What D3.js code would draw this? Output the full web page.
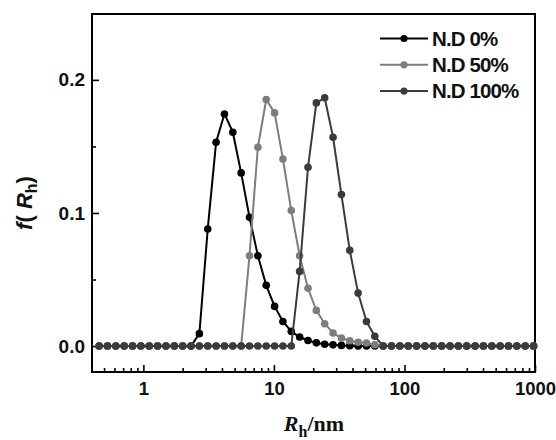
<!DOCTYPE html>
<html>
<head>
<meta charset="utf-8">
<script src="https://cdn.jsdelivr.net/npm/d3@7"></script>
<style>
  body { margin: 0; background: #fff; }
  svg { display: block; }
  text { font-family: "Liberation Sans", Arial, sans-serif; }
</style>
</head>
<body>
<svg width="556" height="440"></svg>
<script>
// hydrodynamic radius grid (nm)
const rh = [0.458, 0.531, 0.615, 0.713, 0.826, 0.957, 1.109, 1.285, 1.489, 1.726,
  2.000, 2.317, 2.685, 3.112, 3.606, 4.178, 4.842, 5.610, 6.501, 7.534,
  8.730, 10.12, 11.72, 13.58, 15.74, 18.24, 21.13, 24.49, 28.38, 32.89,
  38.11, 44.16, 51.17, 59.29, 68.71, 79.62, 92.26, 106.9, 123.9, 143.5,
  166.3, 192.8, 223.4, 258.8, 299.9, 347.5, 402.7, 466.7, 540.8, 626.6,
  726.1, 841.4, 975.0];

// f(Rh) for each sample
const nd0 = [0, 0, 0, 0, 0, 0, 0, 0, 0, 0,
  0, 0, 0.0093, 0.0880, 0.1531, 0.1744, 0.1607, 0.1301, 0.0967, 0.0679,
  0.0456, 0.0298, 0.0185, 0.0110, 0.0068, 0.0042, 0.0024, 0.0014, 0.0009, 0.0005,
  0.0003, 0.0001, 0, 0, 0, 0, 0, 0, 0, 0,
  0, 0, 0, 0, 0, 0, 0, 0, 0, 0,
  0, 0, 0];
const nd50 = [0, 0, 0, 0, 0, 0, 0, 0, 0, 0,
  0, 0, 0, 0, 0, 0, 0, 0, 0.0679, 0.1494,
  0.1852, 0.1752, 0.1406, 0.1018, 0.0679, 0.0434, 0.0268, 0.0168, 0.0098, 0.0060,
  0.0040, 0.0028, 0.0023, 0.0010, 0, 0, 0, 0, 0, 0,
  0, 0, 0, 0, 0, 0, 0, 0, 0, 0,
  0, 0, 0];
const nd100 = [0, 0, 0, 0, 0, 0, 0, 0, 0, 0,
  0, 0, 0, 0, 0, 0, 0, 0, 0, 0,
  0, 0, 0, 0, 0.0561, 0.1343, 0.1827, 0.1865, 0.1569, 0.1138,
  0.0719, 0.0398, 0.0185, 0.0073, 0, 0, 0, 0, 0, 0,
  0, 0, 0, 0, 0, 0, 0, 0, 0, 0,
  0, 0, 0];

const seriesNames = ["N.D 0%", "N.D 50%", "N.D 100%"];
const xTickValues = [1, 10, 100, 1000];
const yTickValues = [0, 0.1, 0.2];

const colors = ["#000000", "#7d7d7d", "#3b3b3b"];

let svg = d3.select("svg");
const plotL = 92, plotR = 535, plotT = 14, plotB = 372;

let xScale = d3.scaleLog().domain([0.404, 1000]).range([plotL, plotR]);
let yScale = d3.scaleLinear().domain([-0.0195, 0.2495]).range([plotB, plotT]);

// minor ticks on the log axis
let xMinor = xScale.ticks().filter(function (d) {
  return xTickValues.indexOf(d) < 0 && d >= 0.404 && d <= 1000;
});

let gx = svg.append("g").attr("transform", "translate(0," + plotB + ")");
gx.append("g").call(d3.axisBottom(xScale).tickValues(xMinor).tickSize(-4).tickFormat(""));
gx.append("g").call(d3.axisBottom(xScale).tickValues(xTickValues).tickSize(-7)
  .tickPadding(10).tickFormat(d3.format("d")));
gx.selectAll(".domain").remove();
gx.selectAll("line").attr("stroke", "#000").attr("stroke-width", 1.6);
gx.selectAll("text").attr("font-size", 18.5).attr("font-weight", "bold")
  .attr("fill", "#111");

let gy = svg.append("g").attr("transform", "translate(" + plotL + ",0)");
gy.append("g").call(d3.axisLeft(yScale).tickValues([0.05, 0.15]).tickSize(-4).tickFormat(""));
gy.append("g").call(d3.axisLeft(yScale).tickValues(yTickValues).tickSize(-7)
  .tickPadding(7).tickFormat(d3.format(".1f")));
gy.selectAll(".domain").remove();
gy.selectAll("line").attr("stroke", "#000").attr("stroke-width", 1.6);
gy.selectAll("text").attr("font-size", 19).attr("font-weight", "bold")
  .attr("fill", "#111");

// frame
svg.append("rect")
  .attr("x", plotL).attr("y", plotT)
  .attr("width", plotR - plotL).attr("height", plotB - plotT)
  .attr("fill", "none").attr("stroke", "#000").attr("stroke-width", 2);

// series
let allSeries = [nd0, nd50, nd100];
let line = d3.line()
  .x(function (d, i) { return xScale(rh[i]); })
  .y(function (d) { return yScale(d); });

allSeries.forEach(function (vals, k) {
  let g = svg.append("g");
  g.append("path").datum(vals)
    .attr("d", line)
    .attr("fill", "none")
    .attr("stroke", colors[k])
    .attr("stroke-width", 2);
  g.selectAll("circle").data(vals).join("circle")
    .attr("cx", function (d, i) { return xScale(rh[i]); })
    .attr("cy", function (d) { return yScale(d); })
    .attr("r", 3.8)
    .attr("fill", colors[k]);
});

// legend
let lg = svg.append("g");
seriesNames.forEach(function (name, k) {
  let y = 38.5 + k * 26.3;
  lg.append("line").attr("x1", 380).attr("x2", 428).attr("y1", y).attr("y2", y)
    .attr("stroke", colors[k]).attr("stroke-width", 2);
  lg.append("circle").attr("cx", 404).attr("cy", y).attr("r", 3.6).attr("fill", colors[k]);
  lg.append("text").attr("x", 432).attr("y", y).attr("dy", "0.36em")
    .attr("font-size", 20.5).attr("font-weight", "bold").attr("letter-spacing", -0.9)
    .attr("fill", "#111").text(name);
});

// axis titles
let xt = svg.append("text")
  .attr("x", 314).attr("y", 431)
  .attr("text-anchor", "middle")
  .style("font-family", "'Liberation Serif', 'Times New Roman', serif")
  .attr("font-size", 22).attr("font-weight", "bold").attr("fill", "#111");
xt.append("tspan").attr("font-style", "italic").text("R");
xt.append("tspan").attr("font-size", 16).attr("dy", 6).text("h");
xt.append("tspan").attr("dy", -6).text("/nm");

let yt = svg.append("text")
  .attr("transform", "translate(32,203) rotate(-90)")
  .attr("text-anchor", "middle")
  .attr("font-size", 22).attr("font-weight", "bold").attr("fill", "#111");
yt.append("tspan").attr("font-style", "italic").text("f");
yt.append("tspan").text("( ");
yt.append("tspan").attr("font-style", "italic").text("R");
yt.append("tspan").attr("font-size", 16).attr("dy", 5).text("h");
yt.append("tspan").attr("dy", -5).text(")");
</script>
</body>
</html>
